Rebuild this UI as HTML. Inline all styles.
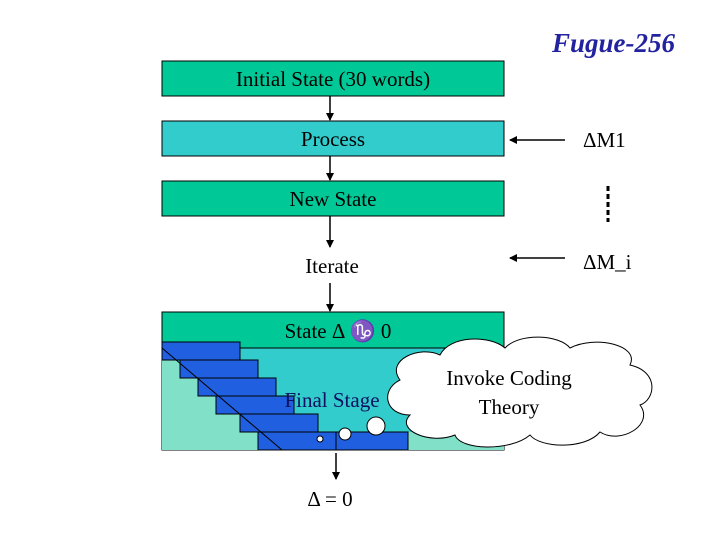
<!DOCTYPE html>
<html><head><style>body{margin:0;background:#fff}svg{display:block}</style></head><body>
<svg width="720" height="540" xmlns="http://www.w3.org/2000/svg" font-family="Liberation Serif, serif">
<defs><marker id="a" markerWidth="8" markerHeight="8" refX="7" refY="4" orient="auto" markerUnits="userSpaceOnUse"><path d="M0,0 L8,4 L0,8z" fill="#000"/></marker></defs>
<text x="675" y="52" text-anchor="end" font-size="27" font-weight="bold" font-style="italic" fill="#2323a0">Fugue-256</text>
<rect x="162" y="61" width="342" height="35" fill="#00c896" stroke="#000"/>
<text x="333" y="86" text-anchor="middle" font-size="21">Initial State (30 words)</text>
<rect x="162" y="121" width="342" height="35" fill="#33cccc" stroke="#000"/>
<text x="333" y="146" text-anchor="middle" font-size="21">Process</text>
<rect x="162" y="181" width="342" height="35" fill="#00c896" stroke="#000"/>
<text x="333" y="206" text-anchor="middle" font-size="21">New State</text>
<g stroke="#000" stroke-width="1.5" marker-end="url(#a)">
<line x1="330" y1="96" x2="330" y2="120"/><line x1="330" y1="156" x2="330" y2="180"/>
<line x1="330" y1="216" x2="330" y2="247"/><line x1="330" y1="283" x2="330" y2="311"/>
<line x1="336" y1="453" x2="336" y2="479"/>
<line x1="565" y1="140" x2="510" y2="140"/><line x1="565" y1="258" x2="510" y2="258"/>
</g>
<line x1="608" y1="186" x2="608" y2="222" stroke="#000" stroke-width="3" stroke-dasharray="5,3"/>
<text x="583" y="147" font-size="21">ΔM1</text>
<text x="583" y="269" font-size="21">ΔM_i</text>
<text x="332" y="273" text-anchor="middle" font-size="21">Iterate</text>
<rect x="162" y="312" width="342" height="138" fill="#33cccc" stroke="#000"/>
<rect x="162" y="312" width="342" height="36" fill="#00c896" stroke="#000"/>
<text x="338" y="338" text-anchor="middle" font-size="21">State Δ ♑ 0</text>
<polygon points="162,348 282,450 162,450" fill="#80e0c8"/>
<rect x="408" y="432" width="96" height="18" fill="#80e0c8"/>
<g fill="#2060e0" stroke="#000" stroke-width="1">
<rect x="162" y="342" width="78" height="18"/><rect x="180" y="360" width="78" height="18"/>
<rect x="198" y="378" width="78" height="18"/><rect x="216" y="396" width="78" height="18"/>
<rect x="240" y="414" width="78" height="18"/><rect x="258" y="432" width="150" height="18"/>
</g>
<line x1="162" y1="348" x2="282" y2="450" stroke="#000"/>
<line x1="336" y1="432" x2="336" y2="450" stroke="#000"/>
<text x="332" y="407" text-anchor="middle" font-size="21" fill="#101060">Final Stage</text>
<circle cx="320" cy="439" r="3" fill="#fff" stroke="#000"/>
<circle cx="345" cy="434" r="6" fill="#fff" stroke="#000"/>
<circle cx="376" cy="426" r="9" fill="#fff" stroke="#000"/>
<path d="M400,380 C385,360 420,345 440,355 C450,335 490,335 505,348 C520,332 560,335 570,348 C595,335 640,345 630,365 C660,372 655,400 640,405 C655,425 620,445 600,432 C585,450 540,448 530,435 C510,452 460,450 455,435 C430,445 395,430 410,415 C385,415 380,390 400,380Z" fill="#fff" stroke="#000"/>
<text x="509" y="385" text-anchor="middle" font-size="21">Invoke Coding</text>
<text x="509" y="414" text-anchor="middle" font-size="21">Theory</text>
<text x="330" y="506" text-anchor="middle" font-size="21">Δ = 0</text>
</svg>
</body></html>
